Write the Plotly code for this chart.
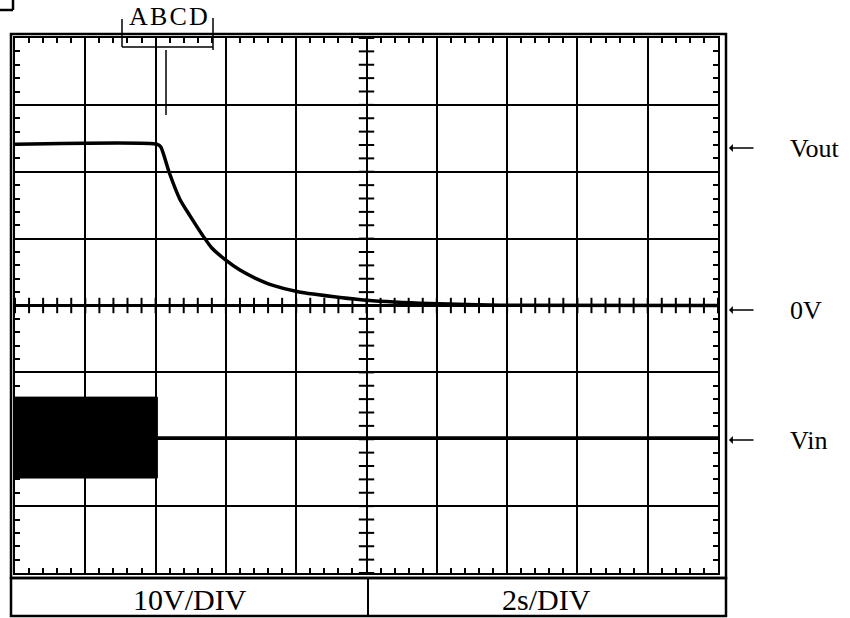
import numpy as np
import plotly.graph_objects as go

# ---- data ----
vout_t = [0.0, 4.05, 4.15, 4.38, 4.69, 4.98, 5.35, 5.60, 5.97, 6.40, 6.83, 7.34, 8.05, 9.25, 10.0, 11.8, 13.8, 20.0]
vout_v = [24.1, 24.1, 23.7, 20.0, 15.9, 13.4, 10.4, 8.6, 6.9, 5.3, 4.1, 3.0, 2.05, 1.2, 0.8, 0.3, 0.05, 0.0]

vin_band_t = [0.0, 4.05]          # noisy input burst (drawn as a filled band)
vin_band_high = -13.7
vin_band_low = -25.8
vin_t = [4.05, 20.0]
vin_v = [-19.8, -19.8]

x_range = [0, 20]      # 2 s/div, 10 div
y_range = [-40, 40]    # 10 V/div, 8 div

W, H = 850, 618
L, R, T, B = 15, 718, 38, 573   # plot area in px

def px(x):
    return (x - L) / (R - L)

def py(y):
    return (B - y) / (B - T)

fig = go.Figure()

# input burst band
fig.add_trace(go.Scatter(
    x=[vin_band_t[0], vin_band_t[1], vin_band_t[1], vin_band_t[0], vin_band_t[0]],
    y=[vin_band_high, vin_band_high, vin_band_low, vin_band_low, vin_band_high],
    fill="toself", fillcolor="black", mode="lines",
    line=dict(color="black", width=1), hoverinfo="skip", showlegend=False))
fig.add_trace(go.Scatter(x=vin_t, y=vin_v, mode="lines",
                         line=dict(color="black", width=3.5), showlegend=False))
fig.add_trace(go.Scatter(x=vout_t, y=vout_v, mode="lines",
                         line=dict(color="black", width=3.5, shape="spline", smoothing=0.6),
                         showlegend=False))

# centre-cross graticule ticks
cx = np.arange(x_range[0], x_range[1] + 0.001, 0.4)
cy = np.arange(y_range[0], y_range[1] + 0.001, 2)
fig.add_trace(go.Scatter(x=cx, y=np.zeros_like(cx), mode="markers",
                         marker=dict(symbol="line-ns", size=11, line=dict(color="black", width=2)),
                         hoverinfo="skip", showlegend=False))
fig.add_trace(go.Scatter(x=np.full_like(cy, 10.0), y=cy, mode="markers",
                         marker=dict(symbol="line-ew", size=11, line=dict(color="black", width=2)),
                         hoverinfo="skip", showlegend=False))

axis_common = dict(showgrid=True, gridcolor="black", gridwidth=2,
                   showline=True, linecolor="black", linewidth=2, mirror="allticks",
                   ticks="inside", ticklen=0, tickcolor="black",
                   showticklabels=False, fixedrange=True)
fig.update_xaxes(range=x_range, dtick=2, zeroline=False,
                 minor=dict(dtick=0.4, ticks="inside", ticklen=5, tickwidth=2,
                            tickcolor="black", showgrid=False),
                 **axis_common)
fig.update_yaxes(range=y_range, dtick=10, zeroline=True, zerolinecolor="black", zerolinewidth=3,
                 minor=dict(dtick=2, ticks="inside", ticklen=5, tickwidth=2,
                            tickcolor="black", showgrid=False),
                 **axis_common)

shapes = []
def pline(x0, y0, x1, y1, w=2):
    shapes.append(dict(type="line", xref="paper", yref="paper",
                       x0=px(x0), y0=py(y0), x1=px(x1), y1=py(y1),
                       line=dict(color="black", width=w)))

def prect(x0, y0, x1, y1, w=2):
    shapes.append(dict(type="rect", xref="paper", yref="paper",
                       x0=px(x0), y0=py(y0), x1=px(x1), y1=py(y1),
                       line=dict(color="black", width=w)))

# outer bezel frame and label box
prect(11, 34, 726, 578, 2.5)
prect(11, 578, 726, 616, 2.5)
pline(368, 578, 368, 616, 2)
# top-left fragment
pline(0, 10, 13, 10, 2.5)
pline(13, 0, 13, 10, 2.5)
# ABCD bracket and cursor
pline(122, 19, 122, 47, 1.5)
pline(122, 47, 213, 47, 1.5)
pline(213, 18, 213, 50, 1.5)
pline(166, 50, 166, 115, 1.5)

annotations = []
def ptext(x, y, text, size, xanchor="center"):
    annotations.append(dict(xref="paper", yref="paper", x=px(x), y=py(y), text=text,
                            showarrow=False, xanchor=xanchor, yanchor="middle",
                            font=dict(family="Liberation Serif", size=size, color="black")))

ptext(168, 17, "A\u200aB\u200aC\u200aD", 26)
ptext(190, 599, "10V/DIV", 30)
ptext(546, 599, "2s/DIV", 30)

for lbl, yy in [("Vout", 148), ("0V", 310), ("Vin", 440)]:
    ptext(788, yy, lbl, 26, xanchor="left")
    annotations.append(dict(xref="paper", yref="paper", axref="pixel", ayref="pixel",
                            x=px(729), y=py(yy), ax=26, ay=0, text="", showarrow=True,
                            arrowhead=1, arrowsize=1, arrowwidth=1.3, arrowcolor="black"))

fig.update_layout(width=W, height=H, margin=dict(l=L, r=W - R, t=T, b=H - B),
                  paper_bgcolor="white", plot_bgcolor="white",
                  shapes=shapes, annotations=annotations, showlegend=False)

fig.write_html("out.html", config={"displayModeBar": False},
               post_script="document.body.style.margin='0';document.body.style.overflow='hidden';")
